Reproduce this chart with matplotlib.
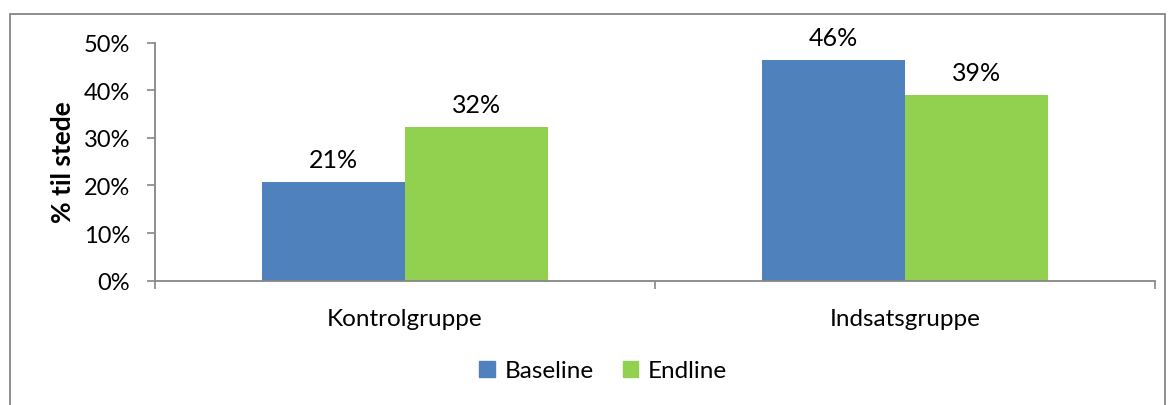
import matplotlib
matplotlib.use("Agg")
import matplotlib.pyplot as plt
from matplotlib.patches import Rectangle, Patch
import numpy as np

categories = ["Kontrolgruppe", "Indsatsgruppe"]
baseline = [0.207, 0.463]
endline = [0.323, 0.390]
series_names = ["Baseline", "Endline"]
yticks = [0.0, 0.1, 0.2, 0.3, 0.4, 0.5]

blue = "#4F81BD"
green = "#92D050"
axis_grey = "#868686"

plt.rcParams["font.family"] = ["Lato", "DejaVu Sans"]

W, H = 1171, 406
fig = plt.figure(figsize=(W / 100, H / 100), dpi=100)

# outer chart frame (bottom edge falls outside the image)
fig.patches.append(Rectangle((10 / W, -0.05), (1165 - 10) / W, 1.05 - 15 / H,
                             transform=fig.transFigure, fill=False,
                             edgecolor=axis_grey, linewidth=1.3))

ax = fig.add_axes([155 / W, 1 - 281.7 / H, (1155 - 155) / W, (281.7 - 43.5) / H])

x = np.arange(len(categories))
width = 0.286
b1 = ax.bar(x - width / 2, baseline, width, color=blue, label=series_names[0])
b2 = ax.bar(x + width / 2, endline, width, color=green, label=series_names[1])

for bars, vals in ((b1, baseline), (b2, endline)):
    for rect, v in zip(bars, vals):
        ax.annotate(f"{v * 100:.0f}%", (rect.get_x() + rect.get_width() / 2, v),
                    xytext=(0, 8), textcoords="offset points",
                    ha="center", va="bottom", fontsize=18, color="#000000")

ax.set_xlim(-0.5, 1.5)
ax.set_ylim(0, 0.5)
ax.set_yticks(yticks)
ax.set_yticklabels([f"{t * 100:.0f}%" for t in yticks], fontsize=17)
ax.set_xticks(x)
ax.set_xticklabels(categories, fontsize=17.5)
ax.set_xticks([-0.5, 0.5, 1.5], minor=True)
ax.tick_params(axis="x", which="major", length=0, pad=20)
ax.tick_params(axis="x", which="minor", length=6, width=1.2, color=axis_grey,
               direction="out")
ax.tick_params(axis="y", length=6, width=1.2, color=axis_grey, pad=12)

for side in ("top", "right"):
    ax.spines[side].set_visible(False)
for side in ("left", "bottom"):
    ax.spines[side].set_color(axis_grey)
    ax.spines[side].set_linewidth(1.3)

ax.set_ylabel("% til stede", fontsize=19, fontweight="bold", labelpad=6)

handles = [Patch(color=blue), Patch(color=green)]
fig.legend(handles, series_names, loc="center", bbox_to_anchor=(603 / W, 1 - 372 / H),
           ncol=2, frameon=False, fontsize=17.5, handlelength=0.65, handleheight=0.65,
           handletextpad=0.4, columnspacing=1.2)

fig.savefig("out.png", dpi=100)
